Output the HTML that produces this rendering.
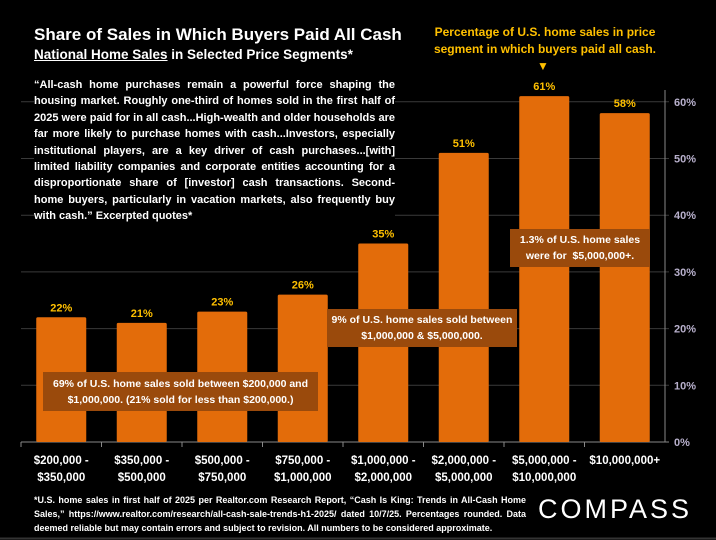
<!DOCTYPE html>
<html><head><meta charset="utf-8"><style>
body{margin:0;background:#000;width:716px;height:540px;overflow:hidden;font-family:"Liberation Sans",sans-serif;position:relative;color:#fff}
.abs{position:absolute}
.box{position:absolute;background:#9a4a0c;color:#fff;font-weight:bold;font-size:10.5px;line-height:16px;text-align:center;font-family:"Liberation Sans",sans-serif;box-sizing:border-box}
</style></head><body>
<svg class="abs" style="left:0;top:0" width="716" height="540">
<g id="grid"></g><g id="bars"></g><g id="labels"></g><g id="ticks"></g><g id="cats"></g>
<line x1="0" y1="538.5" x2="716" y2="538.5" stroke="#333" stroke-width="2"/>
</svg>
<div class="abs" style="left:34px;top:25px;font-size:17px;font-weight:bold">Share of Sales in Which Buyers Paid All Cash</div>
<div class="abs" style="left:34px;top:47px;font-size:13.5px;font-weight:bold"><span style="text-decoration:underline">National Home Sales</span> in Selected Price Segments*</div>
<div class="abs" style="left:34px;top:77px;width:361px;font-size:11px;line-height:16.4px;font-weight:bold;text-align:justify;background:#000">“All-cash home purchases remain a powerful force shaping the housing market. Roughly one-third of homes sold in the first half of 2025 were paid for in all cash...High-wealth and older households are far more likely to purchase homes with cash...Investors, especially institutional players, are a key driver of cash purchases...[with] limited liability companies and corporate entities accounting for a disproportionate share of [investor] cash transactions. Second-home buyers, particularly in vacation markets, also frequently buy with cash.” Excerpted quotes*</div>
<div class="abs" style="left:420px;top:24px;width:250px;text-align:center;color:#ffc000;font-weight:bold;font-size:12px;line-height:17px">Percentage of U.S. home sales in price segment in which buyers paid all cash.</div>
<div class="abs" style="left:537px;top:59px;color:#ffc000;font-size:12px">▼</div>
<div class="box" style="left:43px;top:372px;width:275px;height:39px;padding-top:4px">69% of U.S. home sales sold between $200,000 and $1,000,000. (21% sold for less than $200,000.)</div>
<div class="box" style="left:327px;top:309px;width:190px;height:38px;padding-top:3px">9% of U.S. home sales sold between $1,000,000 &amp; $5,000,000.</div>
<div class="box" style="left:510px;top:229px;width:140px;height:38px;padding-top:3px">1.3% of U.S. home sales were for &nbsp;$5,000,000+.</div>
<div class="abs" style="left:34px;top:493px;width:492px;font-size:9px;line-height:14px;font-weight:bold;text-align:justify">*U.S. home sales in first half of 2025 per Realtor.com Research Report, “Cash Is King: Trends in All-Cash Home Sales,” https://www.realtor.com/research/all-cash-sale-trends-h1-2025/ dated 10/7/25. Percentages rounded. Data deemed reliable but may contain errors and subject to revision. All numbers to be considered approximate.</div>
<div class="abs" style="left:538px;top:494px;font-size:27px;letter-spacing:3px;color:#fff">COMPASS</div>
<script>
const categories=[["$200,000 -","$350,000"],["$350,000 -","$500,000"],["$500,000 -","$750,000"],["$750,000 -","$1,000,000"],["$1,000,000 -","$2,000,000"],["$2,000,000 -","$5,000,000"],["$5,000,000 -","$10,000,000"],["$10,000,000+"]];
const values=[22,21,23,26,35,51,61,58];
const ticks=[0,10,20,30,40,50,60];
const NS="http://www.w3.org/2000/svg";
const x0=21,x1=665,y0=442,pp=5.67;
const cw=(x1-x0)/categories.length;
const y=v=>y0-v*pp, xc=i=>x0+cw*(i+0.5);
function mk(t,a,p){const e=document.createElementNS(NS,t);for(const k in a)e.setAttribute(k,a[k]);document.getElementById(p).appendChild(e);return e;}
ticks.forEach(t=>{
 const l=mk('line',{x1:x0,x2:x1+4,y1:y(t),y2:y(t),stroke:t==0?'#888':'#3a3a3a','stroke-width':1},'grid');
 
 
 const tx=mk('text',{x:674,y:y(t)+4,fill:'#b8b0cc','font-size':11,'font-weight':'bold','font-family':'Liberation Sans, sans-serif'},'ticks');
 tx.textContent=t+'%';
 
 
});
const ax=mk('line',{x1:x1,x2:x1,y1:y0,y2:90,stroke:'#888'},'grid');


values.forEach((v,i)=>{
 const b=mk('rect',{x:xc(i)-25,y:y(v),width:50,height:v*pp,fill:'#e36c0a',rx:1.5},'bars');
 
 
 const t=mk('text',{x:xc(i),y:y(v)-6,fill:'#ffc000','font-size':11,'font-weight':'bold','text-anchor':'middle','font-family':'Liberation Sans, sans-serif'},'labels');
 t.textContent=v+'%';
 
 
 mk('line',{x1:x0+cw*i,x2:x0+cw*i,y1:y0,y2:y0+5,stroke:'#888'},'grid');
 categories[i].forEach((s,j)=>{
  const c=mk('text',{x:xc(i),y:464+j*17,fill:'#fff','font-size':11.5,'font-weight':'bold','text-anchor':'middle','font-family':'Liberation Sans, sans-serif'},'cats');
  c.textContent=s;
  
  
 });
});
</script>
</body></html>
